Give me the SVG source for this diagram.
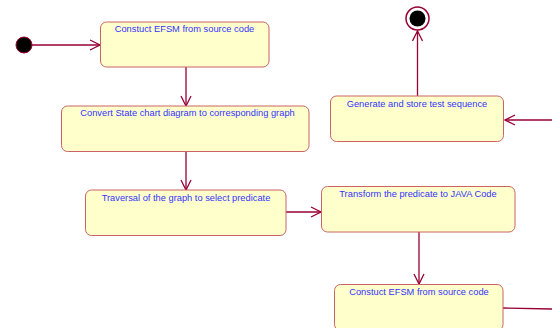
<svg xmlns="http://www.w3.org/2000/svg" width="552" height="328" viewBox="0 0 552 328">
<defs>
<style>
.box{fill:#FFFFCC;stroke:#C86464;stroke-width:1}
.lbl{font-family:"Liberation Sans",Arial,sans-serif;font-size:9.3px;fill:#3333FF;text-anchor:middle}
.edge{stroke:#990033;stroke-width:1.3;fill:none}
</style>
<marker id="arr" viewBox="0 0 12 12" refX="11" refY="6" markerWidth="12" markerHeight="12" markerUnits="userSpaceOnUse" orient="auto">
<path d="M1,1 L11,6 L1,11" fill="none" stroke="#990033" stroke-width="1.3"/>
</marker>
</defs>
<rect width="552" height="328" fill="#FFFFFF"/>
<g id="connectors">
<line class="edge" x1="32" y1="45" x2="100" y2="45" marker-end="url(#arr)"/>
<line class="edge" x1="186" y1="67" x2="186" y2="106" marker-end="url(#arr)"/>
<line class="edge" x1="186" y1="152" x2="186" y2="190" marker-end="url(#arr)"/>
<line class="edge" x1="286" y1="212" x2="321" y2="212" marker-end="url(#arr)"/>
<line class="edge" x1="419" y1="232" x2="419" y2="284" marker-end="url(#arr)"/>
<line class="edge" x1="503" y1="308" x2="552" y2="309"/>
<line class="edge" x1="552" y1="120" x2="505" y2="120" marker-end="url(#arr)"/>
<line class="edge" x1="417.5" y1="96" x2="417.5" y2="31" marker-end="url(#arr)"/>
</g>
<g id="start">
<circle cx="24" cy="45" r="8" fill="#000000" stroke="#990033" stroke-width="1"/>
</g>
<g id="end">
<circle cx="417.5" cy="18.5" r="11.5" fill="#FFFFFF" stroke="#990033" stroke-width="1.5"/>
<circle cx="417.5" cy="18.5" r="8" fill="#000000"/>
</g>
<g id="n1">
<rect class="box" x="100.5" y="22" width="168.5" height="45" rx="6"/>
<text class="lbl" x="184.5" y="32">Constuct EFSM from source code</text>
</g>
<g id="n2">
<rect class="box" x="61.5" y="106" width="247.5" height="45.5" rx="6"/>
<text class="lbl" x="187.5" y="116">Convert State chart diagram to corresponding graph</text>
</g>
<g id="n3">
<rect class="box" x="85.5" y="190" width="200.5" height="45.5" rx="6"/>
<text class="lbl" x="186" y="201">Traversal of the graph to select predicate</text>
</g>
<g id="n4">
<rect class="box" x="321.5" y="186.5" width="193.5" height="45.5" rx="6"/>
<text class="lbl" x="418" y="197">Transform the predicate to JAVA Code</text>
</g>
<g id="n5">
<rect class="box" x="334.5" y="284.5" width="168.5" height="46" rx="6"/>
<text class="lbl" x="419" y="295">Constuct EFSM from source code</text>
</g>
<g id="n6">
<rect class="box" x="330.5" y="96" width="173" height="45.5" rx="6"/>
<text class="lbl" x="417" y="107">Generate and store test sequence</text>
</g>
</svg>
